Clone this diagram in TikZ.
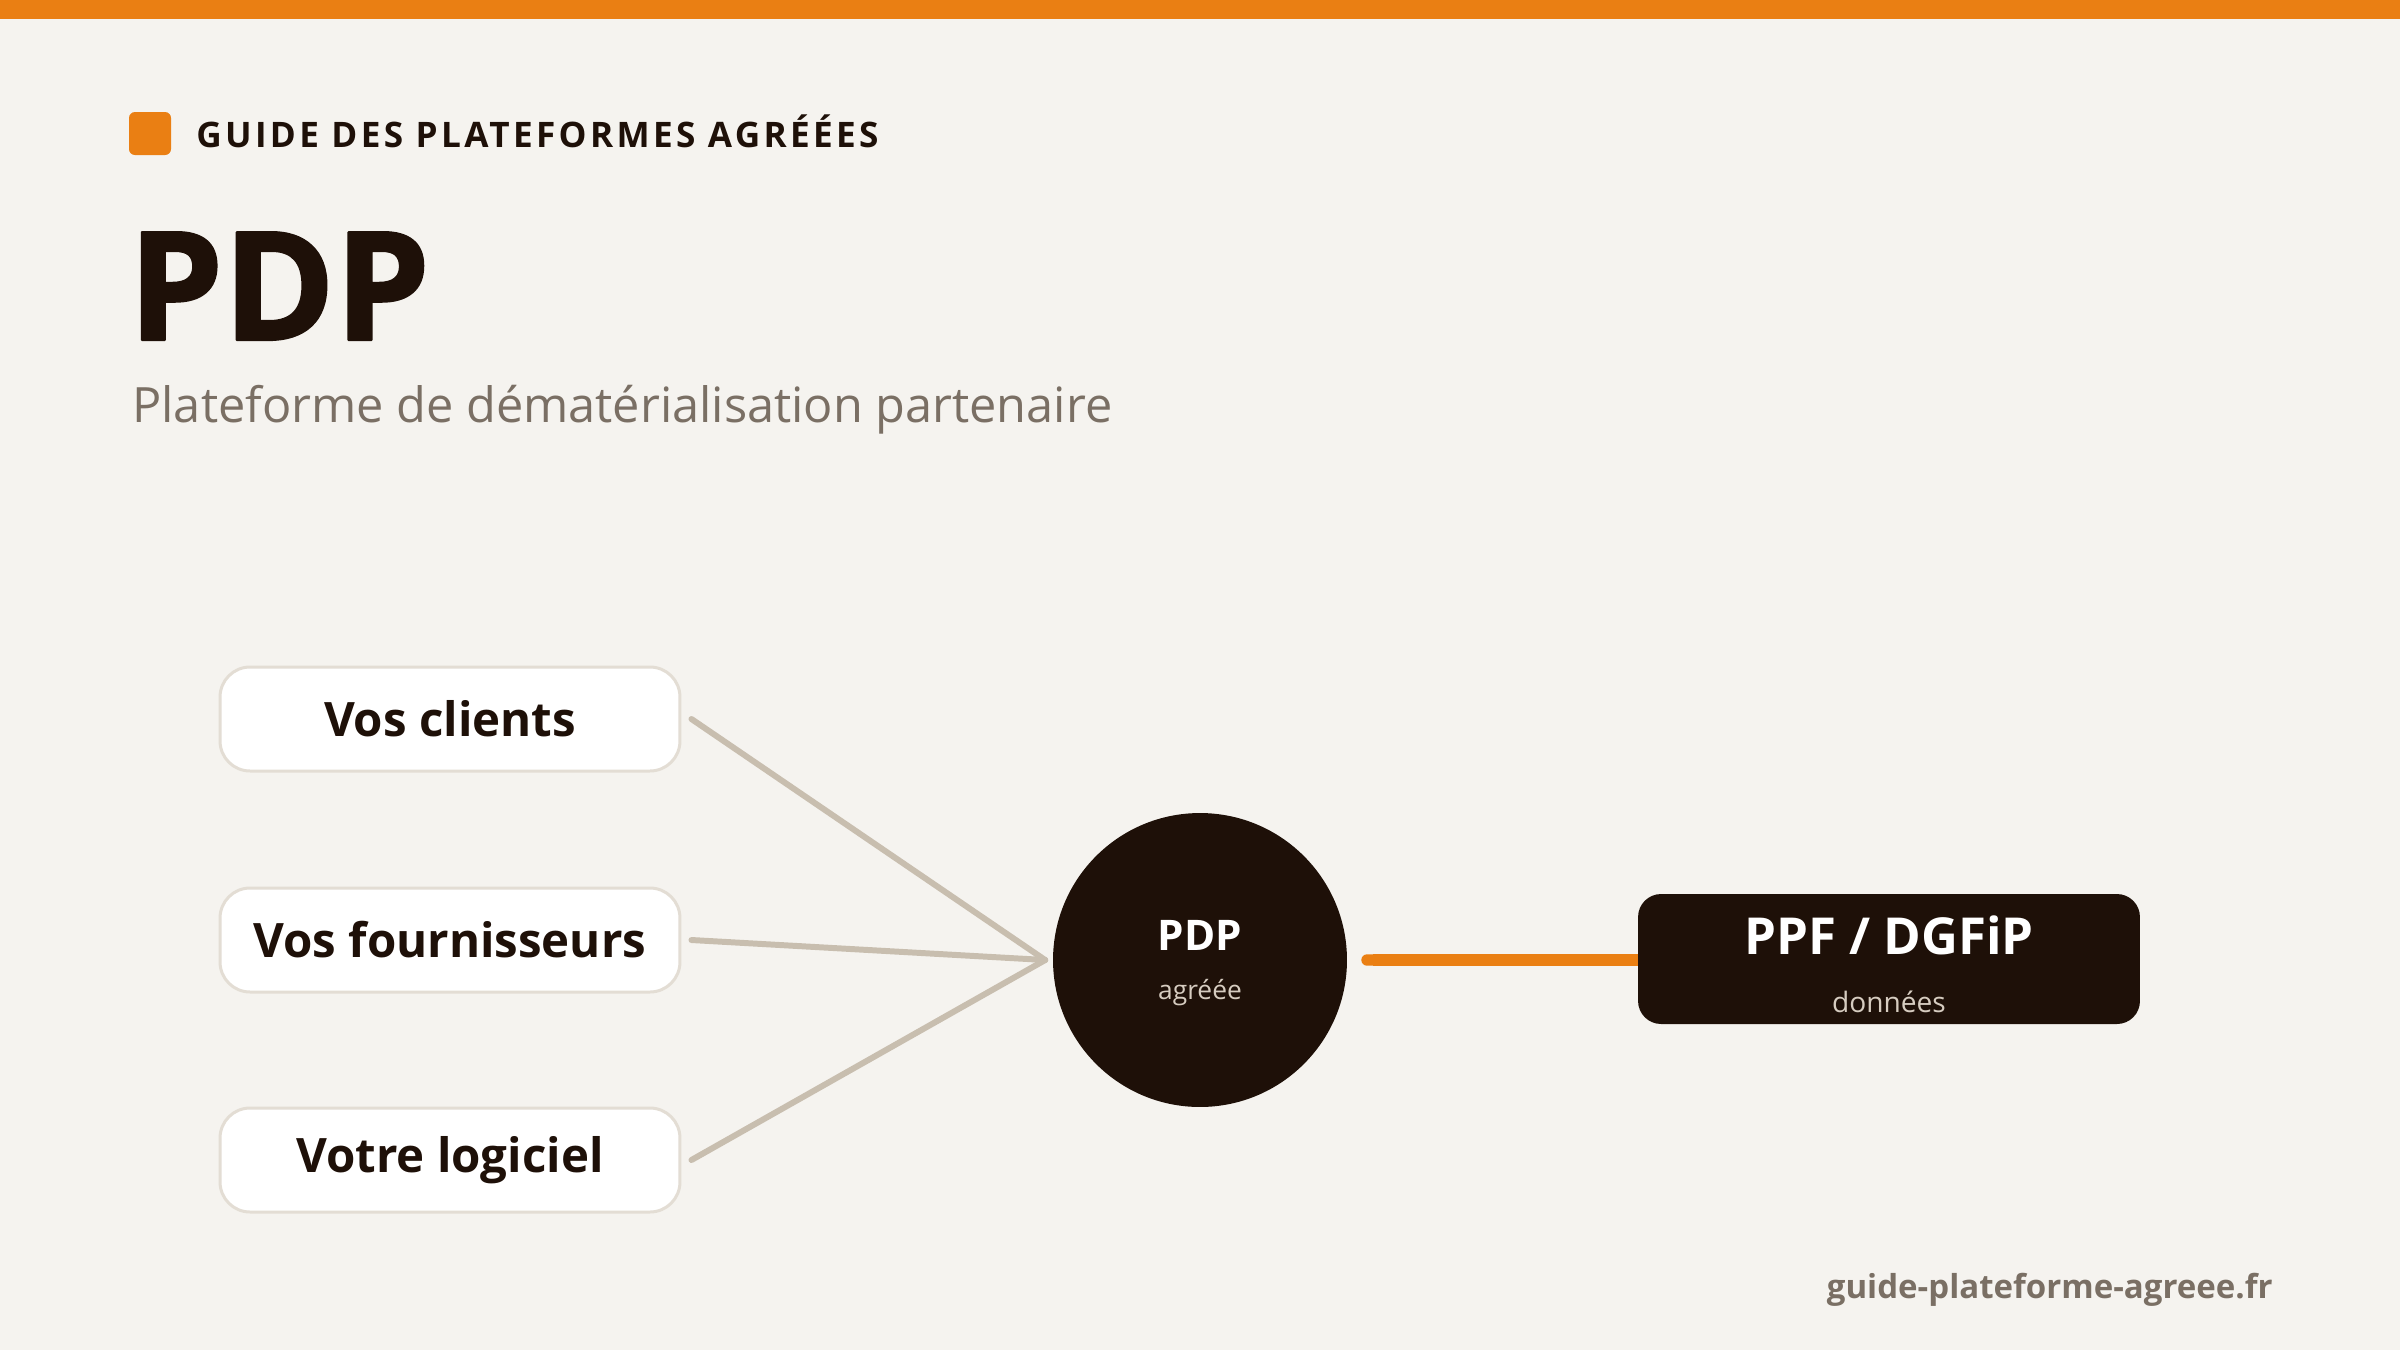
\documentclass[tikz,border=0pt]{standalone}
\usepackage{fontspec}
\setmainfont{Open Sans}
\newfontfamily\trackfont[LetterSpace=9.5]{Open Sans}
\newfontfamily\heavyfont[FakeBold=1.5]{Open Sans}
\usetikzlibrary{arrows.meta}

\definecolor{paper}{HTML}{F5F3EF}
\definecolor{brand}{HTML}{EA7F13}
\definecolor{ink}{HTML}{1E1008}
\definecolor{mute}{HTML}{7A6F64}
\definecolor{mutelight}{HTML}{D6CCC0}
\definecolor{linkgray}{HTML}{C8BEAF}
\definecolor{boxline}{HTML}{E3DDD4}

\begin{document}
\begin{tikzpicture}[x=0.02cm,y=-0.02cm,line cap=round,line join=round,
    partner/.style={draw=boxline,line width=1.7pt,fill=white,
        rounded corners=0.6cm,minimum width=9.2cm,minimum height=2.08cm,
        text=ink,font=\fontsize{27}{32}\selectfont\bfseries},
    link/.style={draw=linkgray,line width=3.4pt},
    hubnode/.style={circle,fill=ink,minimum size=5.88cm,inner sep=0pt,
        text=white,align=center},
    statebox/.style={fill=ink,rounded corners=0.46cm,minimum width=10.04cm,
        minimum height=2.6cm,inner sep=0pt,text=white,align=center}]
\useasboundingbox (0,0) rectangle (2400,1350);
\fill[paper] (0,0) rectangle (2400,1350);
\fill[brand] (0,0) rectangle (2400,19);

% header
\fill[brand,rounded corners=3.4pt] (129,112) rectangle (171,155);
\node[anchor=base west,inner sep=0,text=ink,
    font=\trackfont\fontsize{20}{24}\selectfont\bfseries] (kicker) at (196,147)
    {GUIDE DES PLATEFORMES AGRÉÉES};
\node[anchor=base west,inner sep=0,text=ink,
    font=\heavyfont\fontsize{86}{96}\selectfont\bfseries] (title) at (128,340) {PDP};
\node[anchor=base west,inner sep=0,text=mute,
    font=\fontsize{27.7}{32}\selectfont] (subtitle) at (132,422)
    {Plateforme de dématérialisation partenaire};

% graph
\foreach \i/\y/\t in {
    1/719/Vos clients,
    2/940/Vos fournisseurs,
    3/1160/Votre logiciel
}
{
    \node[partner] (p\i) at (450,\y) {\t};
}
\node[hubnode] (pdp) at (1200,960)
    {\fontsize{24}{28}\selectfont\bfseries\rule{0pt}{21pt}PDP\\[16pt]
     \fontsize{15}{18}\selectfont\color{mutelight}agréée};
\node[statebox] (ppf) at (1889,959)
    {\fontsize{29}{34}\selectfont\bfseries\rule{0pt}{28pt}PPF / DGFiP\\[19pt]
     \fontsize{16}{19}\selectfont\color{mutelight}données};
\coordinate (hub) at ([xshift=-0.15cm]pdp.west);
\foreach \i in {1,2,3}
{
    \draw[link] ([xshift=0.2cm]p\i.east) -- (hub);
}
\draw[brand,line width=6.5pt,line cap=butt,{Round Cap[]}-]
    ([xshift=0.28cm]pdp.east) -- (pdp.east -| ppf.west);

% footer
\node[anchor=base east,inner sep=0,text=mute,
    font=\fontsize{18.8}{22}\selectfont\bfseries] (site) at (2273,1298)
    {guide-plateforme-agreee.fr};
\end{tikzpicture}
\end{document}
